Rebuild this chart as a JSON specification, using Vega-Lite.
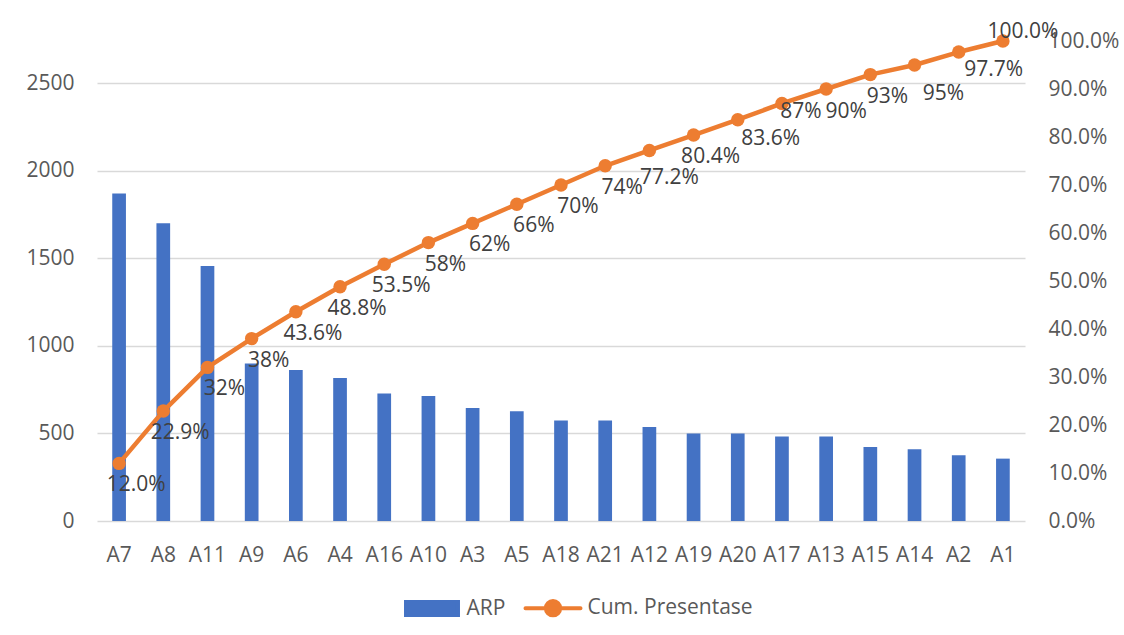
{
  "$schema": "https://vega.github.io/schema/vega-lite/v6.json",
  "width": 928,
  "height": 480,
  "autosize": {"type": "none"},
  "padding": {"left": 97, "top": 41, "right": 99, "bottom": 114},
  "background": "white",
  "config": {
    "view": {"stroke": null},
    "font": "Open Sans",
    "axis": {
      "labelFont": "Open Sans",
      "labelFontSize": 21,
      "labelColor": "#595959",
      "domain": false,
      "ticks": false,
      "tickSize": 0,
      "title": null,
      "gridColor": "#d9d9d9",
      "gridWidth": 1.3
    },
    "legend": {
      "labelFont": "Open Sans",
      "labelFontSize": 21,
      "labelColor": "#595959",
      "labelLimit": 400
    }
  },
  "data": {
    "values": [
      {"cat": "A7", "arp": 1870, "cum": 0.12, "label": "12.0%"},
      {"cat": "A8", "arp": 1699, "cum": 0.229, "label": "22.9%"},
      {"cat": "A11", "arp": 1456, "cum": 0.32, "label": "32%"},
      {"cat": "A9", "arp": 899, "cum": 0.38, "label": "38%"},
      {"cat": "A6", "arp": 862, "cum": 0.436, "label": "43.6%"},
      {"cat": "A4", "arp": 816, "cum": 0.488, "label": "48.8%"},
      {"cat": "A16", "arp": 728, "cum": 0.535, "label": "53.5%"},
      {"cat": "A10", "arp": 713, "cum": 0.58, "label": "58%"},
      {"cat": "A3", "arp": 645, "cum": 0.62, "label": "62%"},
      {"cat": "A5", "arp": 627, "cum": 0.66, "label": "66%"},
      {"cat": "A18", "arp": 574, "cum": 0.70, "label": "70%"},
      {"cat": "A21", "arp": 574, "cum": 0.74, "label": "74%"},
      {"cat": "A12", "arp": 536, "cum": 0.772, "label": "77.2%"},
      {"cat": "A19", "arp": 500, "cum": 0.804, "label": "80.4%"},
      {"cat": "A20", "arp": 500, "cum": 0.836, "label": "83.6%"},
      {"cat": "A17", "arp": 483, "cum": 0.87, "label": "87%"},
      {"cat": "A13", "arp": 483, "cum": 0.90, "label": "90%"},
      {"cat": "A15", "arp": 422, "cum": 0.93, "label": "93%"},
      {"cat": "A14", "arp": 410, "cum": 0.95, "label": "95%"},
      {"cat": "A2", "arp": 375, "cum": 0.977, "label": "97.7%"},
      {"cat": "A1", "arp": 356, "cum": 1.0, "label": "100.0%"}
    ]
  },
  "encoding": {
    "x": {
      "field": "cat",
      "type": "nominal",
      "sort": null,
      "scale": {"paddingInner": 0.69, "paddingOuter": 0.345},
      "axis": {"labelAngle": 0, "labelPadding": 23, "grid": false}
    }
  },
  "layer": [
    {
      "mark": {"type": "bar"},
      "encoding": {
        "y": {
          "field": "arp",
          "type": "quantitative",
          "scale": {"domain": [0, 2740], "nice": false},
          "axis": {
            "orient": "left",
            "values": [0, 500, 1000, 1500, 2000, 2500],
            "format": "d",
            "labelPadding": 23,
            "grid": true
          }
        },
        "color": {
          "datum": "ARP",
          "type": "nominal",
          "scale": {"domain": ["ARP", "Cum. Presentase"], "range": ["#4472C4", "#ED7D31"]},
          "legend": {
            "title": null,
            "orient": "none",
            "legendX": 305.5,
            "legendY": 537.5,
            "direction": "horizontal",
            "symbolSize": 3025,
            "labelOffset": 5,
            "columnPadding": 12,
            "padding": 0,
            "encode": {
              "symbols": {
                "update": {
                  "shape": {"signal": "datum.value === 'ARP' ? 'M-0.945,-0.236H0.945V0.236H-0.945Z' : 'M-1,0H1M0.26,0A0.26,0.26 0 1 1 -0.26,0A0.26,0.26 0 1 1 0.26,0Z'"},
                  "fill": {"signal": "datum.value === 'ARP' ? '#4472C4' : '#ED7D31'"},
                  "stroke": {"signal": "datum.value === 'ARP' ? 'transparent' : '#ED7D31'"},
                  "strokeWidth": {"value": 4},
                  "strokeCap": {"value": "round"},
                  "opacity": {"value": 1}
                }
              }
            }
          }
        }
      }
    },
    {
      "encoding": {
        "y": {
          "field": "cum",
          "type": "quantitative",
          "scale": {"domain": [0, 1], "nice": false},
          "axis": {
            "orient": "right",
            "values": [0, 0.1, 0.2, 0.3, 0.4, 0.5, 0.6, 0.7, 0.8, 0.9, 1.0],
            "format": ".1%",
            "labelPadding": 23,
            "grid": false
          }
        }
      },
      "layer": [
        {
          "mark": {"type": "line", "strokeWidth": 4.5, "strokeCap": "round", "strokeJoin": "round"},
          "encoding": {
            "color": {"datum": "Cum. Presentase", "type": "nominal"}
          }
        },
        {
          "mark": {"type": "point", "filled": true, "size": 180, "color": "#ED7D31", "opacity": 1},
          "encoding": {}
        },
        {
          "transform": [{"filter": "indexof(['A1','A12','A20','A2','A14','A17','A13'], datum.cat) < 0"}],
          "mark": {"type": "text", "fontSize": 21, "color": "#404040", "align": "center", "baseline": "middle", "dx": 17, "dy": 22},
          "encoding": {"text": {"field": "label"}}
        },
        {
          "transform": [{"filter": "datum.cat === 'A12'"}],
          "mark": {"type": "text", "fontSize": 21, "color": "#404040", "align": "center", "baseline": "middle", "dx": 20, "dy": 28},
          "encoding": {"text": {"field": "label"}}
        },
        {
          "transform": [{"filter": "datum.cat === 'A20'"}],
          "mark": {"type": "text", "fontSize": 21, "color": "#404040", "align": "center", "baseline": "middle", "dx": 33, "dy": 19},
          "encoding": {"text": {"field": "label"}}
        },
        {
          "transform": [{"filter": "datum.cat === 'A17'"}],
          "mark": {"type": "text", "fontSize": 21, "color": "#404040", "align": "center", "baseline": "middle", "dx": 19, "dy": 9},
          "encoding": {"text": {"field": "label"}}
        },
        {
          "transform": [{"filter": "datum.cat === 'A13'"}],
          "mark": {"type": "text", "fontSize": 21, "color": "#404040", "align": "center", "baseline": "middle", "dx": 20, "dy": 23},
          "encoding": {"text": {"field": "label"}}
        },
        {
          "transform": [{"filter": "datum.cat === 'A14'"}],
          "mark": {"type": "text", "fontSize": 21, "color": "#404040", "align": "center", "baseline": "middle", "dx": 29, "dy": 29},
          "encoding": {"text": {"field": "label"}}
        },
        {
          "transform": [{"filter": "datum.cat === 'A2'"}],
          "mark": {"type": "text", "fontSize": 21, "color": "#404040", "align": "center", "baseline": "middle", "dx": 35, "dy": 18},
          "encoding": {"text": {"field": "label"}}
        },
        {
          "transform": [{"filter": "datum.cat === 'A1'"}],
          "mark": {"type": "text", "fontSize": 21, "color": "#404040", "align": "center", "baseline": "middle", "dx": 20, "dy": -9},
          "encoding": {"text": {"field": "label"}}
        }
      ]
    }
  ],
  "resolve": {"scale": {"y": "independent"}}
}
